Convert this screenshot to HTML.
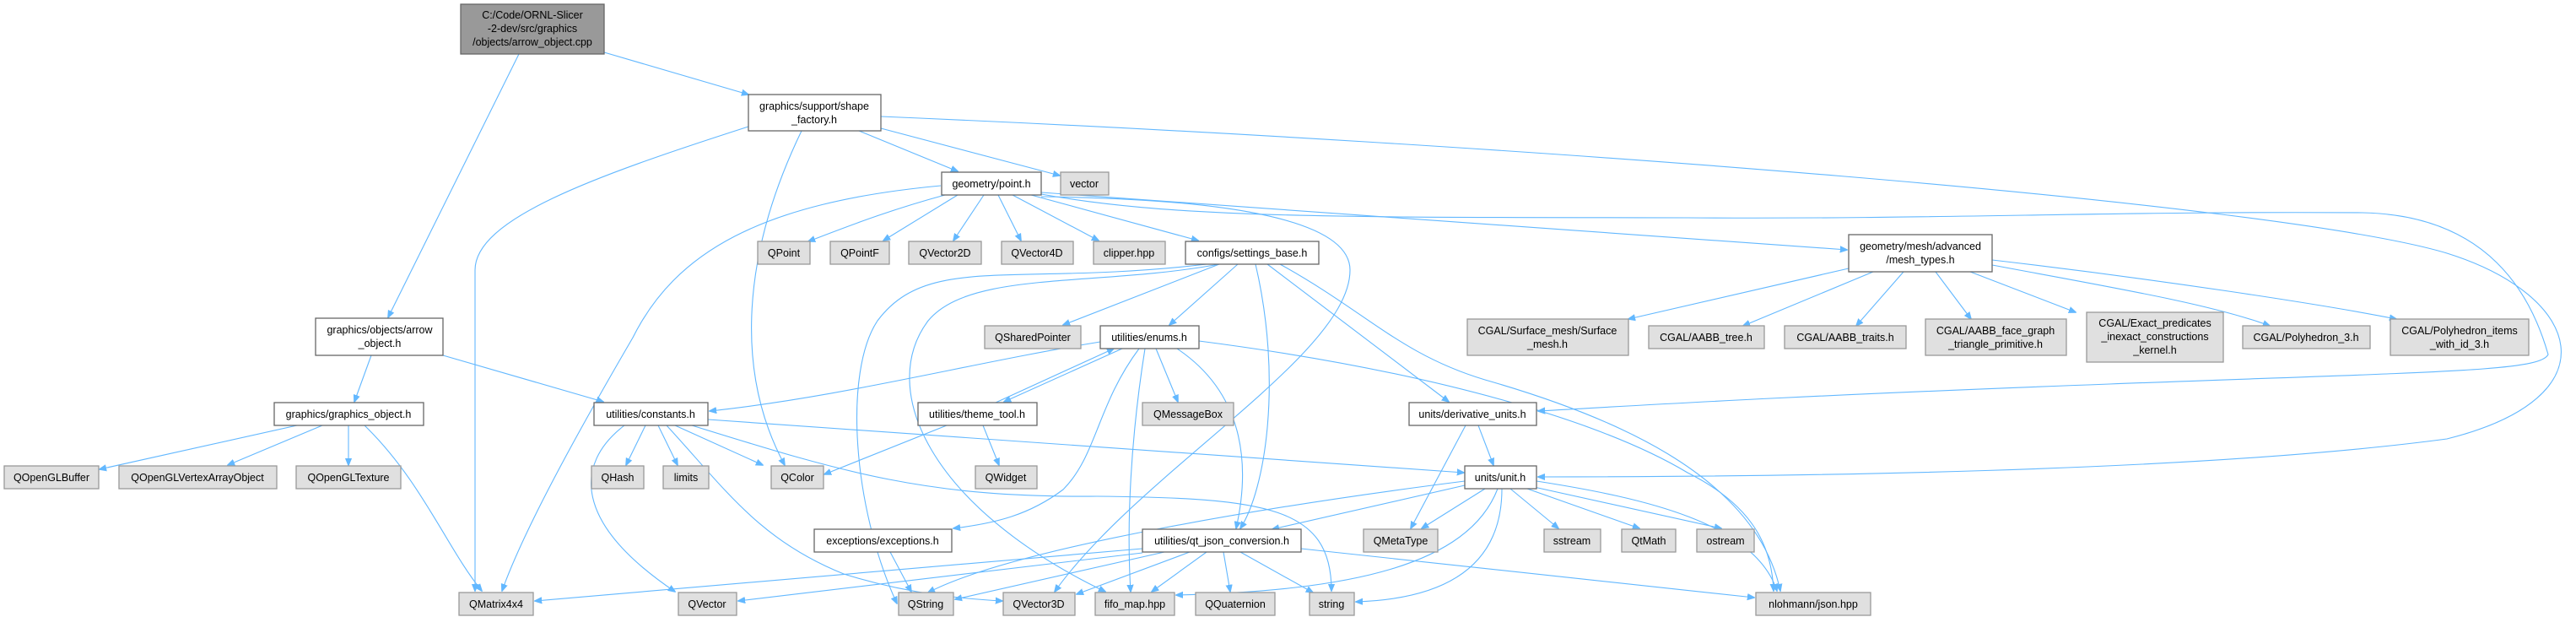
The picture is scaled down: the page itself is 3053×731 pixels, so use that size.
<!DOCTYPE html>
<html><head><meta charset="utf-8"><style>
html,body{margin:0;padding:0;background:#fff;}
svg{display:block;}
text{font-family:"Liberation Sans",sans-serif;font-size:12.5px;fill:#000;text-anchor:middle;}
.e{fill:none;stroke:#63b8ff;stroke-width:1.1;marker-end:url(#a);}
.n{fill:#fff;stroke:#666;stroke-width:1.3;}
.x{fill:#e0e0e0;stroke:#999;stroke-width:1.3;}
.r{fill:#999;stroke:#666;stroke-width:1.3;}
</style></head><body>
<svg width="3053" height="731" viewBox="0 0 3053 731" xmlns="http://www.w3.org/2000/svg">
<defs><marker id="a" viewBox="0 0 10 10" refX="9" refY="5" markerWidth="9" markerHeight="9" markerUnits="userSpaceOnUse" orient="auto"><path d="M0,1 L10,5 L0,9 z" fill="#63b8ff" stroke="#63b8ff"/></marker></defs>

<!-- edges -->
<path class="e" d="M716,62 L887,112"/>
<path class="e" d="M615,64 L460,376"/>
<path class="e" d="M887,150 C700,210 563,260 563,320 L563,700"/>
<path class="e" d="M950,155 C880,300 870,440 930,551"/>
<path class="e" d="M1018,155 L1135,203"/>
<path class="e" d="M1044,152 L1256,208"/>
<path class="e" d="M1044,138 C1800,170 2700,240 2900,300 C3060,350 3100,470 2900,520 C2600,560 2100,565 1823,565"/>
<path class="e" d="M1115,220 C900,240 800,300 750,400 C680,520 620,630 595,700"/>
<path class="e" d="M1120,231 C1050,250 1000,270 958,286"/>
<path class="e" d="M1135,231 L1047,285"/>
<path class="e" d="M1166,231 L1130,285"/>
<path class="e" d="M1183,231 L1210,285"/>
<path class="e" d="M1200,231 L1302,285"/>
<path class="e" d="M1222,231 L1420,285"/>
<path class="e" d="M1234,233 C1400,235 1600,250 1600,320 C1600,420 1350,560 1250,701"/>
<path class="e" d="M1234,228 L2189,296"/>
<path class="e" d="M1234,230 C1400,260 1600,257 2000,258 C2300,260 2500,250 2800,252 C2950,255 3000,350 3020,420 C3010,440 2900,440 2500,455 C2100,470 1950,480 1823,487"/>
<path class="e" d="M1430,313 C1200,340 1100,300 1040,380 C1000,440 1010,600 1063,715"/>
<path class="e" d="M1445,313 C1300,340 1150,320 1100,380 C1040,460 1100,600 1310,701"/>
<path class="e" d="M1445,313 L1260,385"/>
<path class="e" d="M1467,313 L1386,385"/>
<path class="e" d="M1488,313 C1520,450 1500,580 1470,626"/>
<path class="e" d="M1502,313 L1717,476"/>
<path class="e" d="M1517,313 C1620,370 1660,420 1760,450 C1900,490 2080,560 2110,700"/>
<path class="e" d="M1304,405 C1150,430 1000,470 841,487"/>
<path class="e" d="M1330,413 L1190,476"/>
<path class="e" d="M1180,477 L1320,413"/>
<path class="e" d="M1350,413 C1300,480 1300,540 1260,580 C1220,610 1180,620 1130,626"/>
<path class="e" d="M1357,413 C1340,520 1335,620 1340,701"/>
<path class="e" d="M1370,413 L1396,476"/>
<path class="e" d="M1395,413 C1480,470 1480,560 1465,626"/>
<path class="e" d="M1421,404 C1700,440 1900,500 2000,560 C2080,600 2100,650 2102,700"/>
<path class="e" d="M1122,504 L977,562"/>
<path class="e" d="M1165,504 L1184,551"/>
<path class="e" d="M740,504 C680,550 680,620 800,701"/>
<path class="e" d="M765,504 L742,551"/>
<path class="e" d="M780,504 L803,551"/>
<path class="e" d="M800,504 L904,551"/>
<path class="e" d="M790,504 C860,580 900,640 1000,680 C1080,705 1150,710 1188,712"/>
<path class="e" d="M820,504 C1000,560 1100,590 1300,588 C1500,590 1578,600 1578,700"/>
<path class="e" d="M839,497 L1735,560"/>
<path class="e" d="M352,504 L118,556"/>
<path class="e" d="M382,504 L270,551"/>
<path class="e" d="M413,504 L413,551"/>
<path class="e" d="M432,504 C500,570 530,650 571,700"/>
<path class="e" d="M440,421 L420,476"/>
<path class="e" d="M525,421 L715,476"/>
<path class="e" d="M1752,504 L1770,551"/>
<path class="e" d="M1737,504 L1672,626"/>
<path class="e" d="M1736,575 L1508,627"/>
<path class="e" d="M1736,570 C1500,600 1200,650 1100,702"/>
<path class="e" d="M1760,579 L1685,626"/>
<path class="e" d="M1790,579 L1847,626"/>
<path class="e" d="M1810,579 L1943,626"/>
<path class="e" d="M1818,577 L2040,626"/>
<path class="e" d="M1821,570 C1950,590 2080,620 2106,700"/>
<path class="e" d="M1775,579 C1740,670 1600,700 1394,705"/>
<path class="e" d="M1780,579 C1780,680 1700,710 1607,713"/>
<path class="e" d="M1354,650 L634,712"/>
<path class="e" d="M1354,655 L875,712"/>
<path class="e" d="M1380,654 L1132,710"/>
<path class="e" d="M1410,654 L1276,704"/>
<path class="e" d="M1430,654 L1365,701"/>
<path class="e" d="M1450,654 L1458,701"/>
<path class="e" d="M1470,654 L1556,702"/>
<path class="e" d="M1542,650 L2079,708"/>
<path class="e" d="M1055,654 L1080,701"/>
<path class="e" d="M2191,318 L1930,378"/>
<path class="e" d="M2220,322 L2066,386"/>
<path class="e" d="M2256,322 L2200,386"/>
<path class="e" d="M2294,322 L2336,378"/>
<path class="e" d="M2335,322 L2460,370"/>
<path class="e" d="M2361,314 C2500,340 2620,360 2690,386"/>
<path class="e" d="M2361,308 C2550,330 2750,360 2840,378"/>

<!-- nodes -->
<rect class="r" x="546" y="5" width="170" height="59"/>
<text x="631" y="22">C:/Code/ORNL-Slicer</text><text x="631" y="38">-2-dev/src/graphics</text><text x="631" y="54">/objects/arrow_object.cpp</text>

<rect class="n" x="887" y="112" width="157" height="43"/>
<text x="965" y="130">graphics/support/shape</text><text x="965" y="146">_factory.h</text>

<rect class="n" x="374" y="377" width="151" height="44"/>
<text x="450" y="395">graphics/objects/arrow</text><text x="450" y="411">_object.h</text>

<rect class="n" x="325" y="477" width="177" height="27"/><text x="413" y="495">graphics/graphics_object.h</text>
<rect class="n" x="704" y="477" width="135" height="27"/><text x="771" y="495">utilities/constants.h</text>

<rect class="x" x="5" y="552" width="112" height="27"/><text x="61" y="570">QOpenGLBuffer</text>
<rect class="x" x="141" y="552" width="187" height="27"/><text x="234" y="570">QOpenGLVertexArrayObject</text>
<rect class="x" x="351" y="552" width="124" height="27"/><text x="413" y="570">QOpenGLTexture</text>
<rect class="x" x="701" y="552" width="62" height="27"/><text x="732" y="570">QHash</text>
<rect class="x" x="786" y="552" width="54" height="27"/><text x="813" y="570">limits</text>
<rect class="x" x="914" y="552" width="62" height="27"/><text x="945" y="570">QColor</text>

<rect class="x" x="898" y="286" width="62" height="27"/><text x="929" y="304">QPoint</text>
<rect class="x" x="984" y="286" width="70" height="27"/><text x="1019" y="304">QPointF</text>
<rect class="x" x="1077" y="286" width="86" height="27"/><text x="1120" y="304">QVector2D</text>
<rect class="x" x="1187" y="286" width="85" height="27"/><text x="1229" y="304">QVector4D</text>
<rect class="x" x="1296" y="286" width="85" height="27"/><text x="1338" y="304">clipper.hpp</text>
<rect class="n" x="1405" y="286" width="158" height="27"/><text x="1484" y="304">configs/settings_base.h</text>

<rect class="n" x="1116" y="204" width="118" height="27"/><text x="1175" y="222">geometry/point.h</text>
<rect class="x" x="1257" y="204" width="57" height="27"/><text x="1285" y="222">vector</text>

<rect class="x" x="1167" y="386" width="114" height="27"/><text x="1224" y="404">QSharedPointer</text>
<rect class="n" x="1304" y="386" width="117" height="27"/><text x="1362" y="404">utilities/enums.h</text>

<rect class="n" x="2191" y="278" width="170" height="44"/>
<text x="2276" y="296">geometry/mesh/advanced</text><text x="2276" y="312">/mesh_types.h</text>

<rect class="x" x="1739" y="378" width="191" height="43"/><text x="1834" y="396">CGAL/Surface_mesh/Surface</text><text x="1834" y="412">_mesh.h</text>
<rect class="x" x="1954" y="386" width="137" height="27"/><text x="2022" y="404">CGAL/AABB_tree.h</text>
<rect class="x" x="2115" y="386" width="144" height="27"/><text x="2187" y="404">CGAL/AABB_traits.h</text>
<rect class="x" x="2282" y="378" width="167" height="43"/><text x="2365" y="396">CGAL/AABB_face_graph</text><text x="2365" y="412">_triangle_primitive.h</text>
<rect class="x" x="2473" y="370" width="162" height="59"/><text x="2554" y="387">CGAL/Exact_predicates</text><text x="2554" y="403">_inexact_constructions</text><text x="2554" y="419">_kernel.h</text>
<rect class="x" x="2658" y="386" width="151" height="27"/><text x="2733" y="404">CGAL/Polyhedron_3.h</text>
<rect class="x" x="2833" y="378" width="164" height="43"/><text x="2915" y="396">CGAL/Polyhedron_items</text><text x="2915" y="412">_with_id_3.h</text>

<rect class="n" x="1088" y="477" width="141" height="27"/><text x="1158" y="495">utilities/theme_tool.h</text>
<rect class="x" x="1354" y="477" width="108" height="27"/><text x="1408" y="495">QMessageBox</text>
<rect class="n" x="1670" y="477" width="151" height="27"/><text x="1745" y="495">units/derivative_units.h</text>
<rect class="x" x="1156" y="552" width="73" height="27"/><text x="1192" y="570">QWidget</text>
<rect class="n" x="1736" y="552" width="85" height="27"/><text x="1778" y="570">units/unit.h</text>

<rect class="n" x="965" y="627" width="163" height="27"/><text x="1046" y="645">exceptions/exceptions.h</text>
<rect class="n" x="1354" y="627" width="188" height="27"/><text x="1448" y="645">utilities/qt_json_conversion.h</text>
<rect class="x" x="1616" y="627" width="88" height="27"/><text x="1660" y="645">QMetaType</text>
<rect class="x" x="1830" y="627" width="67" height="27"/><text x="1863" y="645">sstream</text>
<rect class="x" x="1922" y="627" width="64" height="27"/><text x="1954" y="645">QtMath</text>
<rect class="x" x="2011" y="627" width="68" height="27"/><text x="2045" y="645">ostream</text>

<rect class="x" x="544" y="702" width="88" height="27"/><text x="588" y="720">QMatrix4x4</text>
<rect class="x" x="804" y="702" width="69" height="27"/><text x="838" y="720">QVector</text>
<rect class="x" x="1065" y="702" width="65" height="27"/><text x="1097" y="720">QString</text>
<rect class="x" x="1189" y="702" width="85" height="27"/><text x="1231" y="720">QVector3D</text>
<rect class="x" x="1298" y="702" width="94" height="27"/><text x="1345" y="720">fifo_map.hpp</text>
<rect class="x" x="1417" y="702" width="94" height="27"/><text x="1464" y="720">QQuaternion</text>
<rect class="x" x="1552" y="702" width="53" height="27"/><text x="1578" y="720">string</text>
<rect class="x" x="2081" y="702" width="136" height="27"/><text x="2149" y="720">nlohmann/json.hpp</text>
</svg>
</body></html>
